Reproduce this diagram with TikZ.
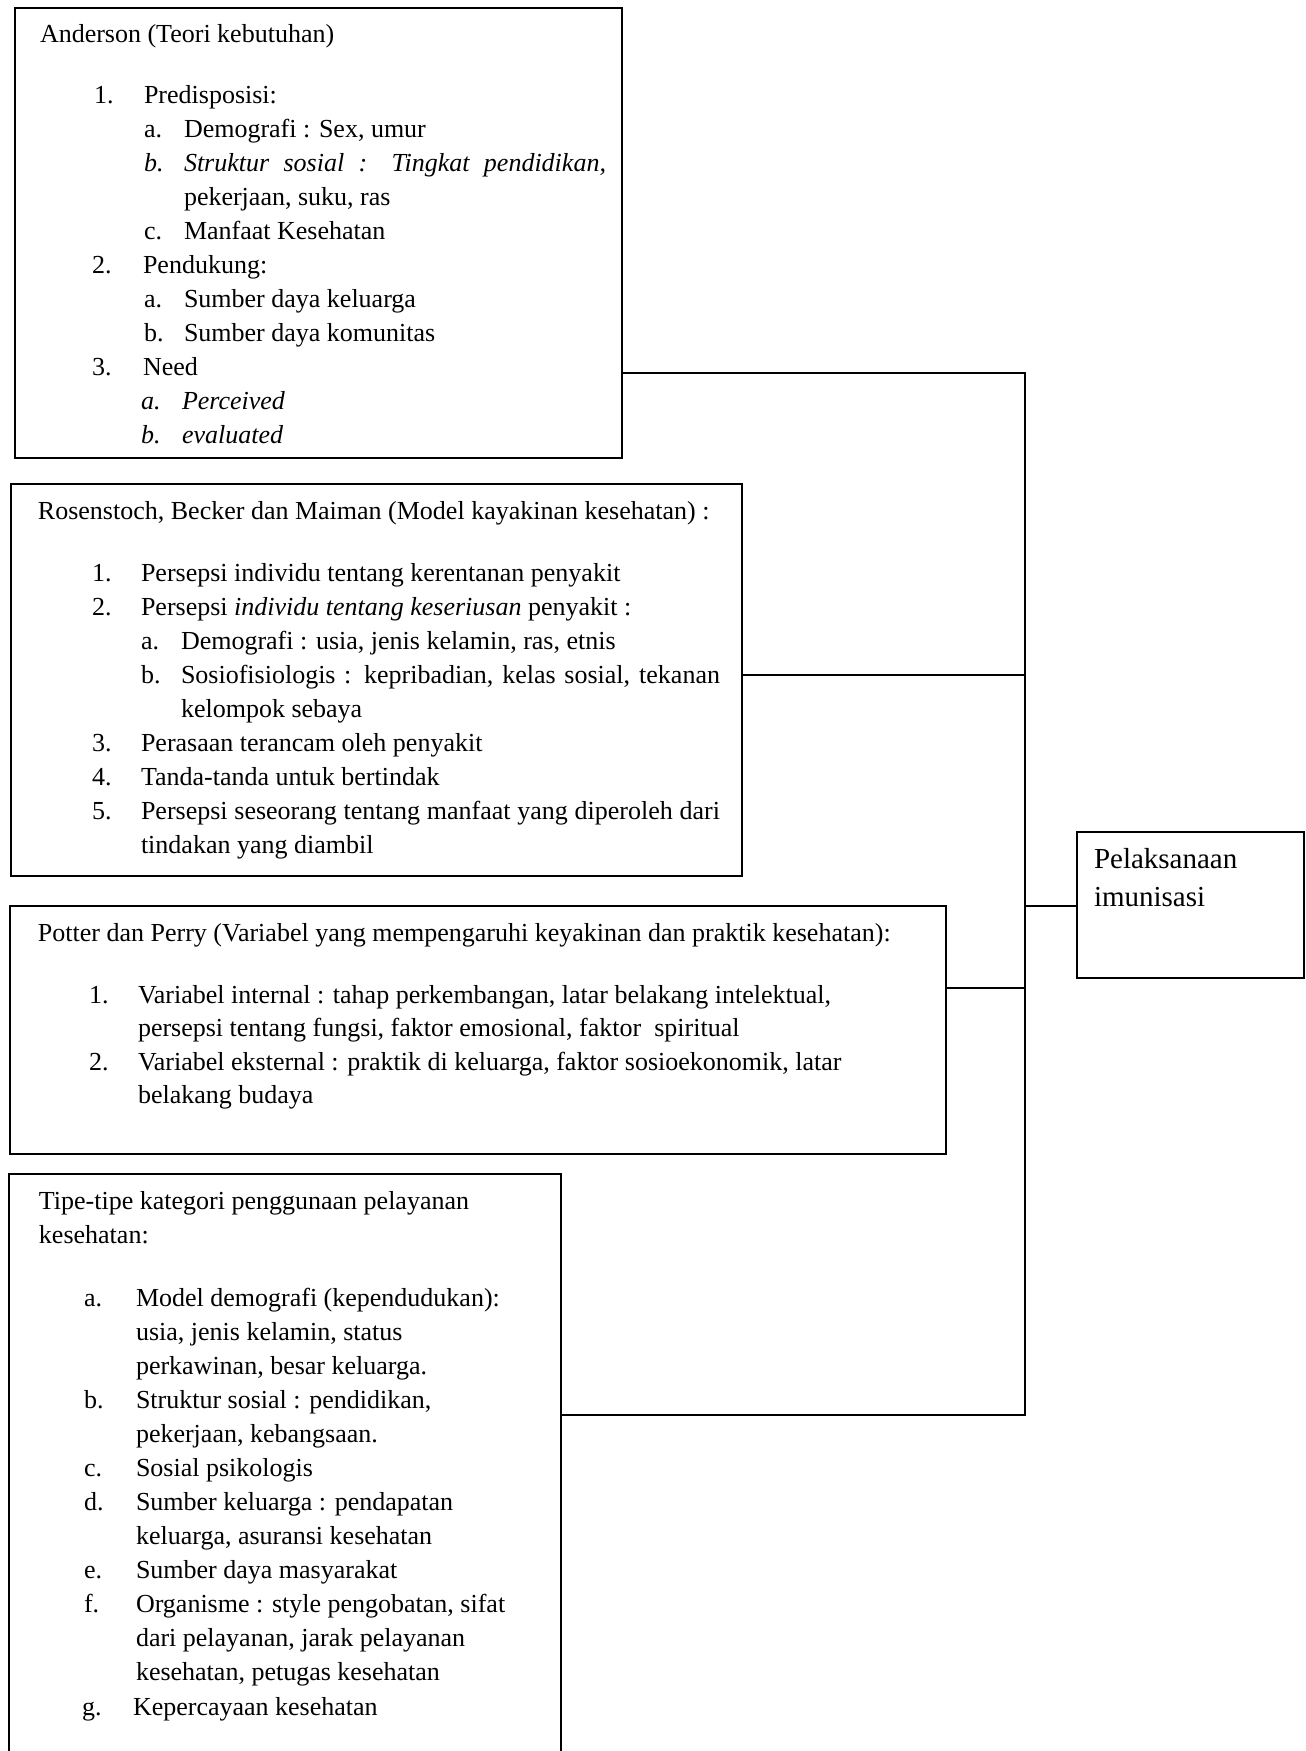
\documentclass[tikz,border=0pt]{standalone}
\usepackage{fontspec}
\setmainfont{Liberation Serif}
\begin{document}
\begin{tikzpicture}[x=0.5pt,y=-0.5pt,
  boxst/.style={draw,line width=1.25pt,rectangle,anchor=north west,inner sep=0pt,outer sep=0pt},
  txt/.style={anchor=base west,inner sep=0pt,outer sep=0pt,font=\fontsize{13}{16}\selectfont},
  bigtxt/.style={anchor=base west,inner sep=0pt,outer sep=0pt,font=\fontsize{14.5}{17}\selectfont},
  conn/.style={line width=1.25pt}]
\clip (0,0) rectangle (1306,1751);
\fill[white] (0,0) rectangle (1306,1751);

% boxes
\node[boxst,minimum width=303.5pt,minimum height=225pt] (b1) at (15,8) {};
\node[boxst,minimum width=365.5pt,minimum height=196pt] (b2) at (11,484) {};
\node[boxst,minimum width=468pt,minimum height=124pt] (b3) at (10,906) {};
\node[boxst,minimum width=276pt,minimum height=325pt] (b4) at (9,1174) {};
\node[boxst,minimum width=113.5pt,minimum height=73pt] (b5) at (1077,832) {};

% junctions
\coordinate (j1) at (1025,373);
\coordinate (j2) at (1025,675);
\coordinate (j5) at (1025,906);
\coordinate (j3) at (1025,988);
\coordinate (j4) at (1025,1415);

\draw[conn] (b1.east |- j1) -- (j1);
\draw[conn] (b2.east |- j2) -- (j2);
\draw[conn] (b3.east |- j3) -- (j3);
\draw[conn] (b4.east |- j4) -- (j4);
\draw[conn,line cap=rect] (j1) -- (j4);
\draw[conn] (j5) -- (b5.west |- j5);

% box 1
\node[txt] (a0) at (40,42) {Anderson (Teori kebutuhan)};
\node[txt] (a1n) at (94,103) {1.};
\node[txt] (a1) at (144,103) {Predisposisi:};
\node[txt] (a1an) at (144,137) {a.};
\node[txt] (a1a) at (184,137) {Demografi : Sex, umur};
\node[txt] (a1bn) at (144,171) {\itshape b.};
\node[txt] (a1b) at (184,171) {\makebox[211pt][s]{\itshape Struktur sosial : Tingkat pendidikan,}};
\node[txt] (a1b2) at (184,205) {pekerjaan, suku, ras};
\node[txt] (a1cn) at (144,239) {c.};
\node[txt] (a1c) at (184,239) {Manfaat Kesehatan};
\node[txt] (a2n) at (92,273) {2.};
\node[txt] (a2) at (143,273) {Pendukung:};
\node[txt] (a2an) at (144,307) {a.};
\node[txt] (a2a) at (184,307) {Sumber daya keluarga};
\node[txt] (a2bn) at (144,341) {b.};
\node[txt] (a2b) at (184,341) {Sumber daya komunitas};
\node[txt] (a3n) at (92,375) {3.};
\node[txt] (a3) at (143,375) {Need};
\node[txt] (a3an) at (141,409) {\itshape a.};
\node[txt] (a3a) at (182,409) {\itshape Perceived};
\node[txt] (a3bn) at (141,443) {\itshape b.};
\node[txt] (a3b) at (182,443) {\itshape evaluated};

% box 2
\node[txt] (r0) at (38,519) {Rosenstoch, Becker dan Maiman (Model kayakinan kesehatan) :};
\node[txt] (r1n) at (92,581) {1.};
\node[txt] (r1) at (141,581) {Persepsi individu tentang kerentanan penyakit};
\node[txt] (r2n) at (92,615) {2.};
\node[txt] (r2) at (141,615) {Persepsi \textit{individu tentang keseriusan} penyakit :};
\node[txt] (r2an) at (141,649) {a.};
\node[txt] (r2a) at (181,649) {Demografi : usia, jenis kelamin, ras, etnis};
\node[txt] (r2bn) at (141,683) {b.};
\node[txt] (r2b) at (181,683) {\makebox[269.5pt][s]{Sosiofisiologis : kepribadian, kelas sosial, tekanan}};
\node[txt] (r2b2) at (181,717) {kelompok sebaya};
\node[txt] (r3n) at (92,751) {3.};
\node[txt] (r3) at (141,751) {Perasaan terancam oleh penyakit};
\node[txt] (r4n) at (92,785) {4.};
\node[txt] (r4) at (141,785) {Tanda-tanda untuk bertindak};
\node[txt] (r5n) at (92,819) {5.};
\node[txt] (r5) at (141,819) {\makebox[289.5pt][s]{Persepsi seseorang tentang manfaat yang diperoleh dari}};
\node[txt] (r52) at (141,853) {tindakan yang diambil};

% box 3
\node[txt] (p0) at (38,941) {Potter dan Perry (Variabel yang mempengaruhi keyakinan dan praktik kesehatan):};
\node[txt] (p1n) at (89,1003) {1.};
\node[txt] (p1) at (138,1003) {Variabel internal : tahap perkembangan, latar belakang intelektual,};
\node[txt] (p12) at (138,1036) {persepsi tentang fungsi, faktor emosional, faktor\ \ spiritual};
\node[txt] (p2n) at (89,1070) {2.};
\node[txt] (p2) at (138,1070) {Variabel eksternal : praktik di keluarga, faktor sosioekonomik, latar};
\node[txt] (p22) at (138,1103) {belakang budaya};

% box 4
\node[txt] (k0) at (39,1209) {Tipe-tipe kategori penggunaan pelayanan};
\node[txt] (k02) at (39,1243) {kesehatan:};
\node[txt] (kan) at (84,1306) {a.};
\node[txt] (ka) at (136,1306) {Model demografi (kependudukan):};
\node[txt] (ka2) at (136,1340) {usia, jenis kelamin, status};
\node[txt] (ka3) at (136,1374) {perkawinan, besar keluarga.};
\node[txt] (kbn) at (84,1408) {b.};
\node[txt] (kb) at (136,1408) {Struktur sosial : pendidikan,};
\node[txt] (kb2) at (136,1442) {pekerjaan, kebangsaan.};
\node[txt] (kcn) at (84,1476) {c.};
\node[txt] (kc) at (136,1476) {Sosial psikologis};
\node[txt] (kdn) at (84,1510) {d.};
\node[txt] (kd) at (136,1510) {Sumber keluarga : pendapatan};
\node[txt] (kd2) at (136,1544) {keluarga, asuransi kesehatan};
\node[txt] (ken) at (84,1578) {e.};
\node[txt] (ke) at (136,1578) {Sumber daya masyarakat};
\node[txt] (kfn) at (84,1612) {f.};
\node[txt] (kf) at (136,1612) {Organisme : style pengobatan, sifat};
\node[txt] (kf2) at (136,1646) {dari pelayanan, jarak pelayanan};
\node[txt] (kf3) at (136,1680) {kesehatan, petugas kesehatan};
\node[txt] (kgn) at (82,1715) {g.};
\node[txt] (kg) at (133,1715) {Kepercayaan kesehatan};

% box 5
\node[bigtxt] (e1) at (1094,868) {Pelaksanaan};
\node[bigtxt] (e2) at (1094,906) {imunisasi};
\end{tikzpicture}
\end{document}
